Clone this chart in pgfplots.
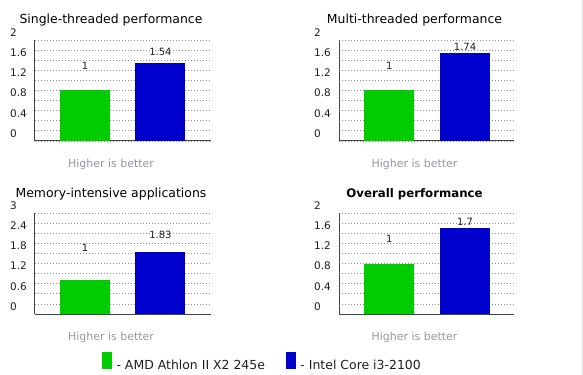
\documentclass[border=0pt]{standalone}
\usepackage{pgfplots}
\pgfplotsset{compat=1.18}
\usepackage{fontspec}
\setmainfont{DejaVu Sans}
\definecolor{barGreen}{RGB}{0,204,0}
\definecolor{barBlue}{RGB}{0,0,204}
\definecolor{gridGray}{RGB}{140,140,140}
\definecolor{noteGray}{RGB}{150,150,160}
\definecolor{axisGray}{RGB}{68,68,68}
\definecolor{tickText}{RGB}{30,30,30}

\pgfplotsset{
  panel/.style={
    scale only axis, height=101bp,
    anchor=south west,
    ymin=0,
    axis x line*=bottom, axis y line*=left,
    axis line style={axisGray, line width=1bp, -},
    xtick=\empty,
    major tick length=0pt, minor tick length=0pt,
    tick style={draw=none},
    grid=both,
    major grid style={gridGray, line width=0.8bp, dash pattern=on 0.8bp off 2.2bp},
    minor grid style={gridGray, line width=0.8bp, dash pattern=on 0.8bp off 2.2bp},
    /pgf/number format/assume math mode=true,
    yticklabel style={anchor=west, xshift=-25bp, inner xsep=0pt, yshift=7.5bp,
      font=\fontsize{10.5}{12}\selectfont, text=tickText},
    every axis title shift=0pt,
    title style={at={(axis description cs:0.5,1)}, anchor=base, xshift=-12bp, yshift=16bp,
      font=\fontsize{12.5}{14}\selectfont, text=black},
    xlabel={Higher is better},
    xlabel style={at={(axis description cs:0.5,0)}, anchor=base, xshift=-12bp, yshift=-26.5bp,
      font=\fontsize{11}{13}\selectfont, text=noteGray},
    clip=false,
  },
  leftpanel/.style={width=176bp, xmin=0.338, xmax=2.669},
  rightpanel/.style={width=175bp, xmin=0.336, xmax=2.647},
  scaletwo/.style={ymax=2, ytick={0,0.4,0.8,1.2,1.6,2}, minor ytick={0.2,0.6,1.0,1.4,1.8}},
  vals/.style={draw=none, mark=none, forget plot, nodes near coords,
    point meta=explicit symbolic,
    nodes near coords style={anchor=center, font=\fontsize{10}{12}\selectfont, text=tickText}},
  gbar/.style={ybar, bar width=50bp, bar shift=0pt, fill=barGreen, draw=none,
    legend image code/.code={\fill[barGreen] (0bp,-3.3bp) rectangle (10bp,13.7bp);}},
  bbar/.style={ybar, bar width=50bp, bar shift=0pt, fill=barBlue, draw=none,
    legend image code/.code={\fill[barBlue] (0bp,-3.3bp) rectangle (10bp,13.7bp);}},
}

\begin{document}
\begin{tikzpicture}
\useasboundingbox (0,0) rectangle (583bp,375bp);
\draw[gray!25, line width=1bp] (582bp,0) -- (582bp,375bp);

% Single-threaded
\begin{axis}[panel, leftpanel, scaletwo, at={(35bp,234bp)},
  title={Single-threaded performance}]
  \addplot[gbar] coordinates {(1,1)};
  \addplot[bbar] coordinates {(2,1.54)};
  \addplot[vals] coordinates {(1,1.485)[1] (2,1.762)[1.54]};
\end{axis}

% Multi-threaded
\begin{axis}[panel, rightpanel, scaletwo, at={(339bp,234bp)},
  title={Multi-threaded performance}]
  \addplot[gbar] coordinates {(1,1)};
  \addplot[bbar] coordinates {(2,1.74)};
  \addplot[vals] coordinates {(1,1.485)[1] (2,1.867)[1.74]};
\end{axis}

% Memory-intensive
\begin{axis}[panel, leftpanel, at={(35bp,61bp)},
  ymax=3, ytick={0,0.6,1.2,1.8,2.4,3}, minor ytick={0.3,0.9,1.5,2.1,2.7},
  title={Memory-intensive applications},
  legend columns=2, legend cell align=left,
  legend style={at={(axis description cs:0.381,-0.47)}, anchor=west,
    draw=none, fill=none, inner sep=0pt, outer sep=0pt,
    nodes={inner sep=0pt, font=\fontsize{12.5}{14}\selectfont, text=tickText},
    /tikz/every odd column/.append style={column sep=4.5bp},
    /tikz/every even column/.append style={column sep=21bp}}]
  \addplot[gbar] coordinates {(1,1)};
  \addlegendentry{- AMD Athlon II X2 245e}
  \addplot[bbar] coordinates {(2,1.83)};
  \addlegendentry{- Intel Core i3-2100}
  \addplot[vals] coordinates {(1,1.963)[1] (2,2.36)[1.83]};
\end{axis}

% Overall
\begin{axis}[panel, rightpanel, scaletwo, at={(339bp,61bp)},
  title={\textbf{Overall performance}},
  title style={font=\fontsize{11.8}{14}\selectfont}]
  \addplot[gbar] coordinates {(1,1)};
  \addplot[bbar] coordinates {(2,1.7)};
  \addplot[vals] coordinates {(1,1.49)[1] (2,1.833)[1.7]};
\end{axis}
\end{tikzpicture}
\end{document}
